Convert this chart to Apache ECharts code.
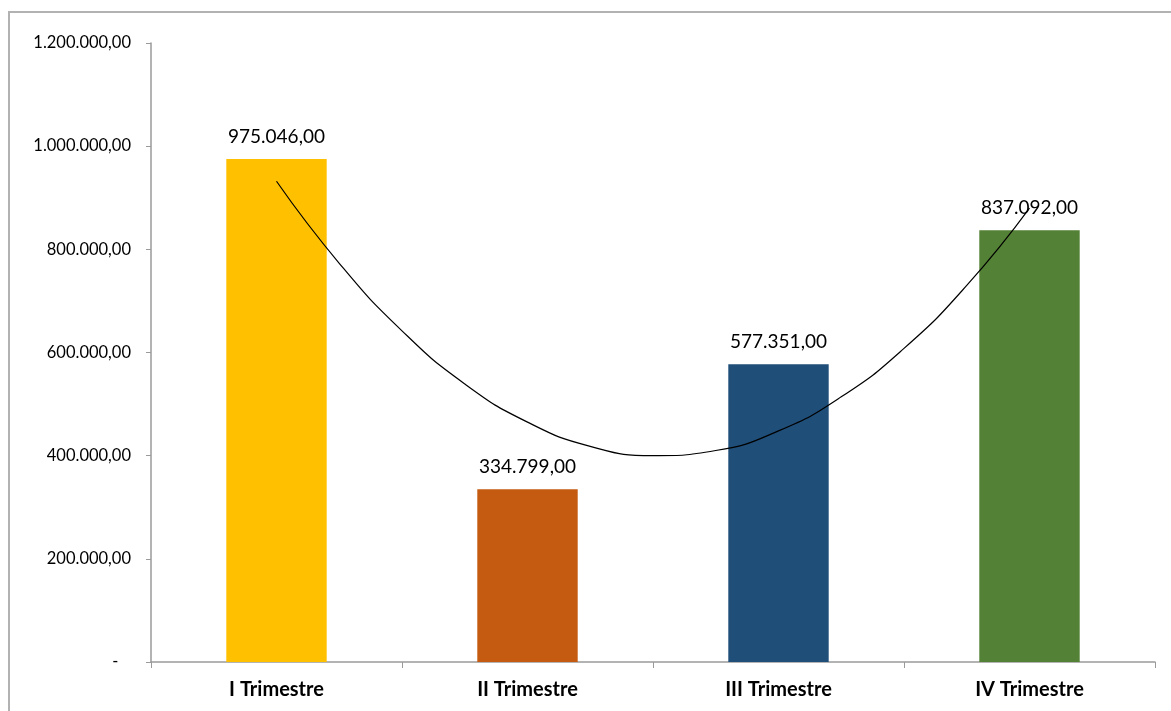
<!DOCTYPE html>
<html>
<head>
<meta charset="utf-8">
<script src="https://cdn.jsdelivr.net/npm/echarts@6/dist/echarts.min.js"></script>
<style>
  html, body { margin: 0; padding: 0; background: #fff; overflow: hidden; }
  #chart { position: absolute; left: 0; top: 0; width: 1171px; height: 711px; }
  #frame { position: absolute; left: 8px; top: 11px; width: 1300px; height: 900px;
           border: 2px solid #b2b2b2; pointer-events: none; }
</style>
</head>
<body>
<div id="chart"></div>
<div id="frame"></div>
<script>
const categories = ["I Trimestre", "II Trimestre", "III Trimestre", "IV Trimestre"];
const values = [975046, 334799, 577351, 837092];
const barColors = ["#FFC000", "#C55A11", "#1F4E79", "#538135"];
// trend curve, at quarter steps between category centres
const trendX = [0, 0.25, 0.5, 0.75, 1, 1.25, 1.5, 1.75, 2, 2.25, 2.5, 2.75, 3];
const trendY = [932000, 773000, 642000, 539000, 465000, 418000, 400000, 410000, 448000, 514000, 608000, 730000, 880000];

function fmt(v) {
  if (v === 0) return "-   ";
  const parts = Math.round(v).toString().replace(/\B(?=(\d{3})+(?!\d))/g, ".");
  return parts + ",00";
}

const chart = echarts.init(document.getElementById("chart"));
chart.setOption({
  animation: false,
  textStyle: { fontFamily: "Lato" },
  grid: { left: 151, right: 16, top: 43, bottom: 49 },
  xAxis: [
    {
      type: "category",
      data: categories,
      axisLine: { lineStyle: { color: "#9a9a9a", width: 1.5 } },
      axisTick: { show: true, length: 6, lineStyle: { color: "#9a9a9a" } },
      axisLabel: { color: "#000", fontSize: 20, fontWeight: "bold", margin: 18 }
    },
    {
      type: "value",
      min: -0.5,
      max: 3.5,
      show: false
    }
  ],
  yAxis: {
    type: "value",
    min: 0,
    max: 1200000,
    interval: 200000,
    splitLine: { show: false },
    axisLine: { show: true, onZero: false, lineStyle: { color: "#9a9a9a", width: 1.5 } },
    axisTick: { show: true, length: 5, lineStyle: { color: "#9a9a9a" } },
    axisLabel: { color: "#000", fontSize: 16.5, margin: 20, formatter: fmt }
  },
  series: [
    {
      type: "bar",
      barWidth: "40%",
      data: values.map((v, i) => ({ value: v, itemStyle: { color: barColors[i] } })),
      label: {
        show: true,
        position: "top",
        distance: 13,
        color: "#000",
        fontSize: 19,
        formatter: p => fmt(p.value)
      }
    },
    {
      type: "line",
      xAxisIndex: 1,
      smooth: true,
      symbol: "none",
      lineStyle: { color: "#000", width: 1.2 },
      data: trendX.map((x, i) => [x, trendY[i]]),
      z: 5
    }
  ]
});
</script>
</body>
</html>
